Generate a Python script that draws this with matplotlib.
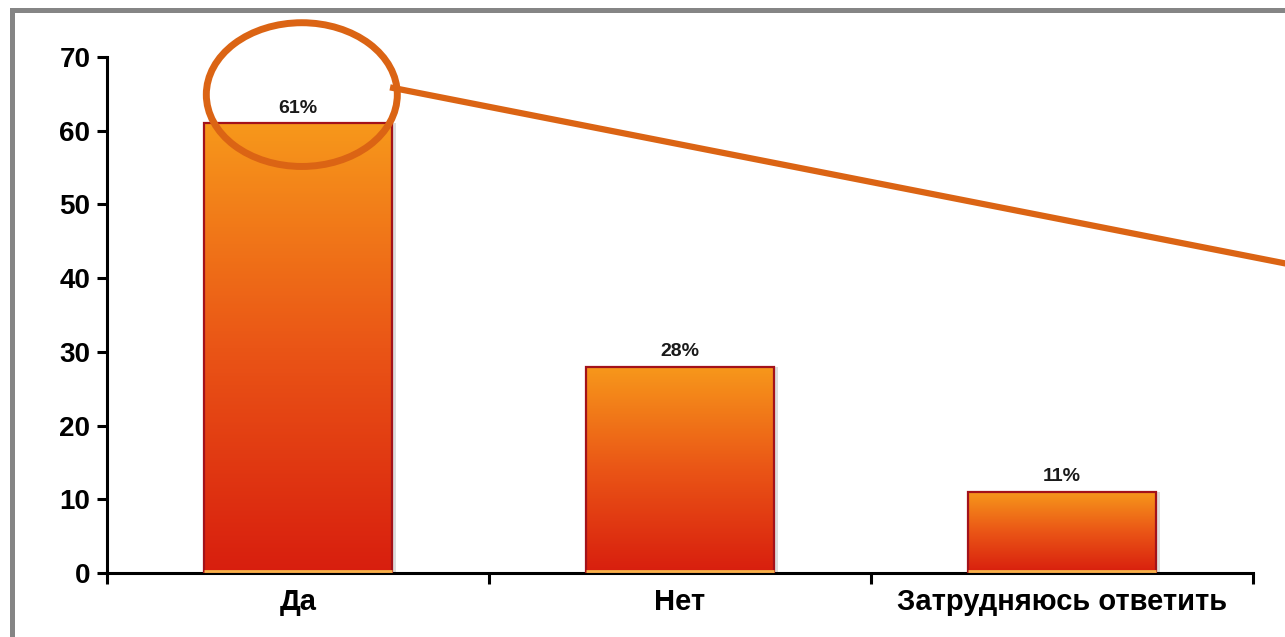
import matplotlib
matplotlib.use("Agg")
import matplotlib.pyplot as plt
import numpy as np
from matplotlib.colors import LinearSegmentedColormap
from matplotlib.patches import Ellipse, Rectangle
from matplotlib.lines import Line2D

categories = ["Да", "Нет", "Затрудняюсь ответить"]
values = [61, 28, 11]
value_labels = ["61%", "28%", "11%"]
yticks = [0, 10, 20, 30, 40, 50, 60, 70]

plt.rcParams['font.family'] = ['Liberation Sans', 'DejaVu Sans']

fig = plt.figure(figsize=(12.85, 6.37), dpi=100)
fig.patch.set_facecolor('white')
ax = fig.add_axes([107/1285, 64/637, (1253-107)/1285, (573-57)/637])

x = np.arange(len(categories))
width = 0.49
cmap = LinearSegmentedColormap.from_list('og', ['#D81E0E', '#EA5516', '#F7981B'])
grad = np.linspace(0, 1, 256).reshape(-1, 1)

bars = ax.bar(x, values, width=width, facecolor='none', edgecolor='#A3121A',
              linewidth=1.6, zorder=3)
for b in bars:
    x0, y0 = b.get_x(), b.get_y()
    w, h = b.get_width(), b.get_height()
    im = ax.imshow(grad, cmap=cmap, origin='lower', aspect='auto',
                   extent=[x0, x0 + w, y0, y0 + h], zorder=2)
    im.set_clip_path(b)
    # soft shadow on right side
    ax.add_patch(Rectangle((x0 + w, y0), 0.012, h, facecolor='#dcdcdc',
                           edgecolor='none', zorder=1))
    ax.plot([x0, x0 + w], [y0 + 0.25, y0 + 0.25], color='#F6B24A', lw=2, zorder=4,
            solid_capstyle='butt')

for xi, v, lab in zip(x, values, value_labels):
    ax.annotate(lab, (xi, v), xytext=(0, 7.5), textcoords='offset points',
                ha='center', va='baseline', fontsize=14, fontweight='bold',
                color='#1a1a1a', zorder=5)

ax.set_xlim(-0.5, 2.5)
ax.set_ylim(0, 70)
ax.set_yticks(yticks)
ax.set_yticklabels([str(t) for t in yticks], fontsize=20, fontweight='bold')
ax.set_xticks([-0.5, 0.5, 1.5, 2.5])
ax.set_xticklabels([])
ax.set_xticks(x, minor=True)
ax.set_xticklabels(categories, minor=True, fontsize=21, fontweight='bold')
ax.tick_params(axis='x', which='major', direction='out', length=8, width=2.2, color='black')
ax.tick_params(axis='x', which='minor', length=0, pad=11)
ax.tick_params(axis='y', direction='out', length=7, width=2.2, pad=5)
for s in ['top', 'right']:
    ax.spines[s].set_visible(False)
for s in ['left', 'bottom']:
    ax.spines[s].set_linewidth(2.2)

# annotation ellipse + pointer line
ax.add_patch(Ellipse((0.01, 64.9), 0.5, 19.5, facecolor='none', edgecolor='#DB6414',
                     linewidth=5, zorder=6, clip_on=False))
ax.add_line(Line2D([0.249, 2.584], [65.8, 42.0], color='#DB6414', linewidth=4.5,
                   zorder=6, clip_on=False))

# grey frame
fig.add_artist(Rectangle((11.5/1285, -0.1), 1.2, (637-9.5)/637 + 0.1, transform=fig.transFigure,
                         facecolor='none', edgecolor='#858585', linewidth=3.6))

fig.savefig('out.png', dpi=100)
